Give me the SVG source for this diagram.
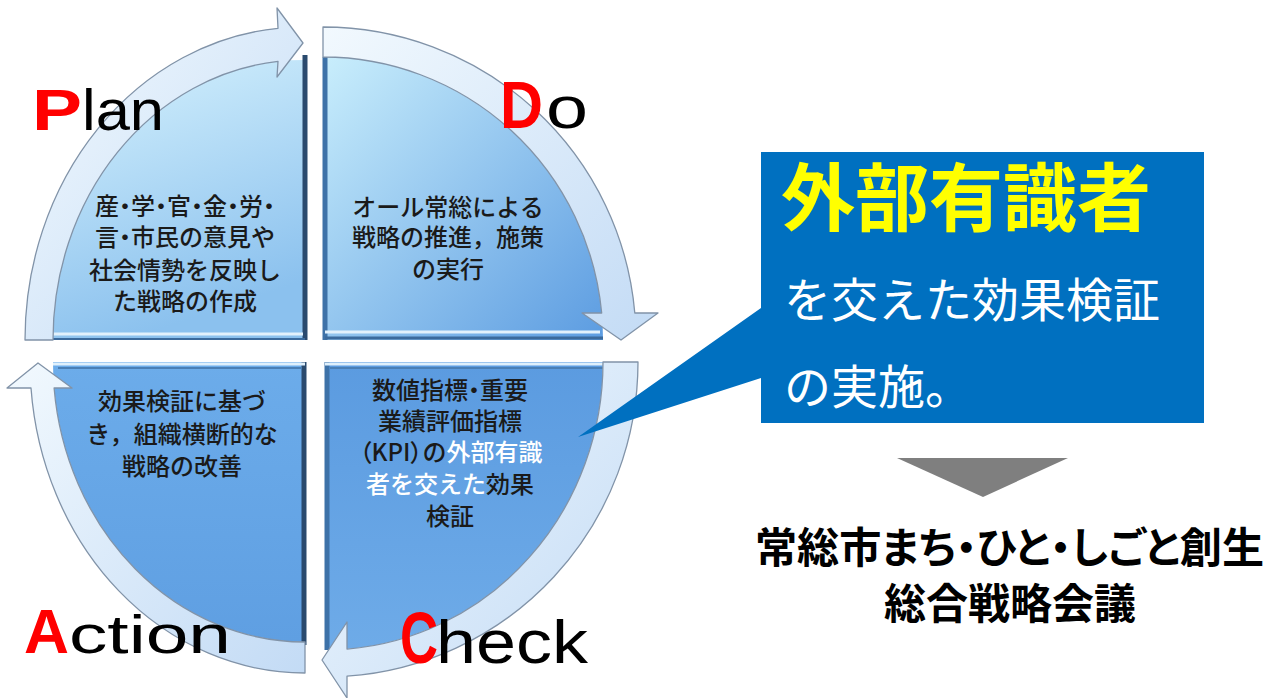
<svg xmlns="http://www.w3.org/2000/svg" width="1271" height="698" viewBox="0 0 1271 698">
<style>
.q{font-family:"Noto Sans CJK JP","Noto Sans",sans-serif;font-size:24px;font-weight:500;fill:#1a1a1a;text-anchor:middle}
.w{fill:#ffffff}
.p{font-feature-settings:"palt"}
.lat{font-family:"Liberation Sans",Arial,sans-serif}
.red{fill:#ff0000;font-weight:bold}
.band{stroke:#8193a8;stroke-width:1.3;stroke-linejoin:round}
.dk{stroke:#2a4a6e;stroke-width:5}
.lt{stroke:#e2f1fc;stroke-width:3}
.jp{font-family:"Noto Sans CJK JP",sans-serif}
</style>
<defs>
<linearGradient id="gPlan" x1="0" y1="0" x2="0.3" y2="1">
<stop offset="0" stop-color="#d6f2fd"/><stop offset="1" stop-color="#8bc1ee"/>
</linearGradient>
<linearGradient id="gDo" x1="0" y1="0" x2="1" y2="1">
<stop offset="0" stop-color="#c9eefc"/><stop offset="1" stop-color="#5c9ce1"/>
</linearGradient>
<linearGradient id="gAct" x1="0" y1="0" x2="0" y2="1">
<stop offset="0" stop-color="#6cacea"/><stop offset="1" stop-color="#5f9fe2"/>
</linearGradient>
<linearGradient id="gChk" x1="0" y1="0" x2="0" y2="1">
<stop offset="0" stop-color="#5b9be0"/><stop offset="1" stop-color="#6eabe8"/>
</linearGradient>
<linearGradient id="gBand" x1="0" y1="0" x2="1" y2="1">
<stop offset="0" stop-color="#f2f9fe"/><stop offset="1" stop-color="#c3dbf5"/>
</linearGradient>
</defs>
<rect width="1271" height="698" fill="#ffffff"/>

<g id="plan">
<path d="M 303 340 L 53 340 A 250 280 0 0 1 303 60 Z" fill="url(#gPlan)"/>
<line class="dk" x1="305" y1="55" x2="305" y2="340"/>
<line class="lt" x1="53" y1="334" x2="303" y2="334"/>
<line x1="53" y1="339" x2="305" y2="339" stroke="#3b6a9c" stroke-width="2"/>
<text class="q"><tspan x="185" y="215">産<tspan class="p">・</tspan>学<tspan class="p">・</tspan>官<tspan class="p">・</tspan>金<tspan class="p">・</tspan>労<tspan class="p">・</tspan></tspan><tspan x="185" y="246">言<tspan class="p">・</tspan>市民の意見や</tspan><tspan x="185" y="279">社会情勢を反映し</tspan><tspan x="185" y="310">た戦略の作成</tspan></text>
</g>

<g id="do">
<path d="M 323 340 L 323 57 A 280 283 0 0 1 603 340 Z" fill="url(#gDo)"/>
<line x1="325" y1="57" x2="325" y2="340" stroke="#3e72a8" stroke-width="5"/>
<line class="lt" x1="325" y1="332" x2="600" y2="332"/>
<line x1="325" y1="338" x2="603" y2="338" stroke="#3b6a9c" stroke-width="3"/>
<text class="q" font-size="25"><tspan x="448" y="216">オール常総による</tspan><tspan x="448" y="246">戦略の推進，施策</tspan><tspan x="448" y="278">の実行</tspan></text>
</g>

<g id="action">
<path d="M 305 362 L 305 642 A 252 280 0 0 1 53 362 Z" fill="url(#gAct)"/>
<line class="dk" x1="304" y1="362" x2="304" y2="645"/>
<line x1="53" y1="364" x2="305" y2="364" stroke="#dff0fc" stroke-width="3"/>
<line x1="58" y1="368" x2="302" y2="368" stroke="#4a7fb5" stroke-width="2"/>
<text class="q"><tspan x="182" y="410">効果検証に基づ</tspan><tspan x="182" y="443">き，組織横断的な</tspan><tspan x="182" y="475">戦略の改善</tspan></text>
</g>

<g id="check">
<path d="M 325 362 L 603 362 A 278 288 0 0 1 325 650 Z" fill="url(#gChk)"/>
<line x1="327" y1="362" x2="327" y2="650" stroke="#3e72a8" stroke-width="5"/>
<line x1="325" y1="364" x2="603" y2="364" stroke="#dff0fc" stroke-width="3"/>
<line x1="330" y1="368" x2="603" y2="368" stroke="#4a7fb5" stroke-width="2"/>
<text class="q"><tspan x="450" y="399">数値指標<tspan class="p">・</tspan>重要</tspan><tspan x="450" y="430">業績評価指標</tspan><tspan x="451" y="461"><tspan class="p">（</tspan>KPI<tspan class="p">）</tspan>の<tspan class="w">外部有識</tspan></tspan><tspan x="450" y="493"><tspan class="w">者を交えた</tspan>効果</tspan><tspan x="450" y="525">検証</tspan></text>
</g>

<g id="connectors">
<path class="band" fill="url(#gBand)" d="M 25 340 A 278 313 0 0 1 278 28.3 L 277 8 L 303 43 L 277 77 L 278 61.4 A 250 280 0 0 0 53 340 Z"/>
<path class="band" fill="url(#gBand)" d="M 323 27 A 313 313 0 0 1 634.8 313 L 658 313 L 621 340 L 582 313 L 601.7 313 A 280 283 0 0 0 323 57 Z"/>
<path class="band" fill="url(#gBand)" d="M 603 362 L 638 362 A 313 315 0 0 1 347 676.2 L 347 698 L 322 660 L 347 622 L 347 649.1 A 278 288 0 0 0 603 362 Z"/>
<path class="band" fill="url(#gBand)" d="M 305 673 A 275 311 0 0 1 31 388 L 7 388 L 38 363 L 72 388 L 54.1 388 A 252 280 0 0 0 305 642 Z"/>
</g>

<g id="labels">
<text class="lat red" x="32" y="130" font-size="57" textLength="50" lengthAdjust="spacingAndGlyphs">P</text>
<text class="lat" x="82" y="130" font-size="57" textLength="82" lengthAdjust="spacingAndGlyphs">lan</text>
<text class="lat red" x="500" y="128" font-size="67" textLength="43" lengthAdjust="spacingAndGlyphs">D</text>
<text class="lat" x="546" y="128" font-size="60" textLength="42" lengthAdjust="spacingAndGlyphs">o</text>
<text class="lat red" x="24" y="653" font-size="63" textLength="45" lengthAdjust="spacingAndGlyphs">A</text>
<text class="lat" x="69" y="653" font-size="54" textLength="162" lengthAdjust="spacingAndGlyphs">ction</text>
<text class="lat red" x="400" y="663" font-size="72" textLength="38" lengthAdjust="spacingAndGlyphs">C</text>
<text class="lat" x="436" y="663" font-size="62" textLength="152" lengthAdjust="spacingAndGlyphs">heck</text>
</g>

<g id="callout">
<path d="M 761 152 L 1204 152 L 1204 423 L 761 423 L 761 378 L 578 437 L 761 308 Z" fill="#0070c0"/>
<text class="jp" x="781" y="225" font-size="74" font-weight="bold" fill="#ffff00">外部有識者</text>
<text class="jp" x="784" y="317" font-size="47" fill="#ffffff">を交えた効果検証</text>
<text class="jp" x="784" y="404" font-size="47" fill="#ffffff">の実施。</text>
</g>

<g id="result">
<polygon points="897,458 1068,458 983,497" fill="#7f7f7f"/>
<text class="jp p" x="755" y="563" font-size="42" font-weight="bold" fill="#000000" textLength="509" lengthAdjust="spacingAndGlyphs">常総市まち・ひと・しごと創生</text>
<text class="jp" x="1010" y="619" font-size="42" font-weight="bold" fill="#000000" text-anchor="middle">総合戦略会議</text>
</g>
</svg>
